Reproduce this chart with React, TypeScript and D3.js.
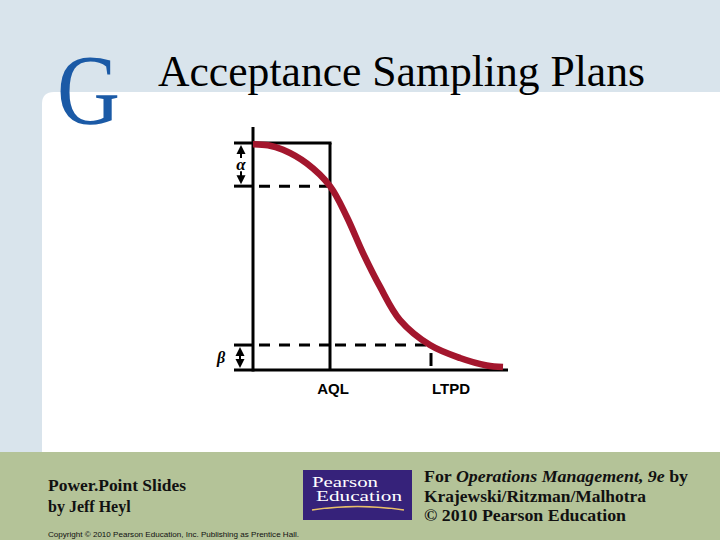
import React from "react";
import * as d3 from "d3";

// Operating characteristic (OC) curve
const defectX = [0, 0.6, 1.2, 2.15, 3.08, 3.75, 4.4, 5.08, 5.88, 7.08, 8.28, 9.35, 10];
const probAccept = [0.995, 0.99, 0.97, 0.91, 0.81, 0.675, 0.515, 0.367, 0.22, 0.11, 0.053, 0.02, 0.013];
const AQL = 3.08;
const LTPD = 7.12;
const ALPHA_LEVEL = 0.81; // 1 - alpha
const BETA_LEVEL = 0.11;
const axisLabels = ["AQL", "LTPD"];

const W = 720;
const H = 540;

export default function App() {
  const x = d3.scaleLinear().domain([0, 10]).range([253, 503]);
  const y = d3.scaleLinear().domain([0, 1]).range([370, 143]);
  const line = d3
    .line<number>()
    .x((_, i) => x(defectX[i]))
    .y((d) => y(d))
    .curve(d3.curveCatmullRom.alpha(0.5));
  const curvePath = line(probAccept) || "";

  const x0 = x(0);
  const xA = x(AQL);
  const xL = x(LTPD);
  const y1 = y(1);
  const y0 = y(0);
  const yAlpha = y(ALPHA_LEVEL);
  const yBeta = y(BETA_LEVEL);
  const tickLeft = 234;
  const arrowX = 241;
  const lw = 3;
  const dash = "11 9";

  const arrowHead = (cx: number, tipY: number, dir: number) =>
    `M${cx},${tipY} L${cx - 4.5},${tipY + dir * 9} L${cx + 4.5},${tipY + dir * 9} Z`;

  return (
    <svg
      width={W}
      height={H}
      style={{ position: "absolute", left: 0, top: 0, display: "block" }}
      viewBox={`0 0 ${W} ${H}`}
    >
      {/* slide background */}
      <rect x={0} y={0} width={W} height={H} fill="#d9e4ec" />
      <path d={`M42,452 L42,104 Q42,92 54,92 L720,92 L720,452 Z`} fill="#ffffff" />
      <rect x={0} y={452} width={W} height={H - 452} fill="#b4c398" />

      {/* header */}
      <text
        x={57}
        y={123}
        fontFamily="'Liberation Serif', 'Times New Roman', serif"
        fontSize={100}
        fill="#1b5aa6"
        textLength={63}
        lengthAdjust="spacingAndGlyphs"
      >
        G
      </text>
      <text
        x={158}
        y={86}
        fontFamily="'Liberation Serif', 'Times New Roman', serif"
        fontSize={44}
        fill="#000"
        textLength={487}
        lengthAdjust="spacingAndGlyphs"
      >
        Acceptance Sampling Plans
      </text>

      {/* OC chart */}
      <g stroke="#000" strokeWidth={lw} fill="none">
        {/* axes */}
        <line x1={x0} y1={127} x2={x0} y2={y0 + 1.5} />
        <line x1={tickLeft} y1={y0} x2={508} y2={y0} />
        {/* top line & AQL vertical */}
        <line x1={tickLeft} y1={y1} x2={xA + 1.5} y2={y1} />
        <line x1={xA} y1={y1} x2={xA} y2={y0} />
        {/* alpha line */}
        <line x1={tickLeft} y1={yAlpha} x2={x0} y2={yAlpha} />
        <line x1={x0 + 6} y1={yAlpha} x2={xA} y2={yAlpha} strokeDasharray={dash} />
        {/* beta line */}
        <line x1={tickLeft} y1={yBeta} x2={x0} y2={yBeta} />
        <line x1={x0 + 6} y1={yBeta} x2={xA} y2={yBeta} strokeDasharray={dash} />
        <line x1={xA + 5} y1={yBeta} x2={xL} y2={yBeta} strokeDasharray={dash} />
        {/* LTPD tick */}
        <line x1={xL} y1={yBeta + 8} x2={xL} y2={y0 - 4} />
        {/* alpha arrow shafts */}
        <line x1={arrowX} y1={y1 + 8} x2={arrowX} y2={y1 + 15} strokeWidth={2} />
        <line x1={arrowX} y1={yAlpha - 15} x2={arrowX} y2={yAlpha - 8} strokeWidth={2} />
        {/* beta arrow shaft */}
        <line x1={arrowX - 1} y1={yBeta + 6} x2={arrowX - 1} y2={y0 - 6} strokeWidth={2} />
      </g>
      <g fill="#000">
        <path d={arrowHead(arrowX, y1 + 2, 1)} />
        <path d={arrowHead(arrowX, yAlpha - 2, -1)} />
        <path d={arrowHead(arrowX - 1, yBeta + 2, 1)} />
        <path d={arrowHead(arrowX - 1, y0 - 2, -1)} />
      </g>
      <text
        x={arrowX}
        y={(y1 + yAlpha) / 2 + 5}
        textAnchor="middle"
        fontFamily="'Liberation Serif', serif"
        fontStyle="italic"
        fontWeight="bold"
        fontSize={17}
      >
        α
      </text>
      <text
        x={221}
        y={(yBeta + y0) / 2 + 5}
        textAnchor="middle"
        fontFamily="'Liberation Serif', serif"
        fontStyle="italic"
        fontWeight="bold"
        fontSize={16}
      >
        β
      </text>

      <path
        d={curvePath}
        fill="none"
        stroke="#a3162d"
        strokeWidth={6.5}
        strokeLinecap="butt"
        strokeLinejoin="round"
      />

      <text
        x={xA + 3}
        y={394}
        textAnchor="middle"
        fontFamily="'Liberation Sans', Arial, sans-serif"
        fontWeight="bold"
        fontSize={15}
      >
        {axisLabels[0]}
      </text>
      <text
        x={xL + 20}
        y={394}
        textAnchor="middle"
        fontFamily="'Liberation Sans', Arial, sans-serif"
        fontWeight="bold"
        fontSize={15}
      >
        {axisLabels[1]}
      </text>

      {/* footer */}
      <g fontFamily="'Liberation Serif', 'Times New Roman', serif" fontWeight="bold" fontSize={16} fill="#111">
        <text x={48} y={491} textLength={138} lengthAdjust="spacingAndGlyphs">
          Power.Point Slides
        </text>
        <text x={48} y={512}>
          by Jeff Heyl
        </text>
        <text x={424} y={482} textLength={264} lengthAdjust="spacingAndGlyphs">
          For <tspan fontStyle="italic">Operations Management, 9e</tspan> by
        </text>
        <text x={424} y={502} textLength={222} lengthAdjust="spacingAndGlyphs">
          Krajewski/Ritzman/Malhotra
        </text>
        <text x={424} y={521} textLength={202} lengthAdjust="spacingAndGlyphs">
          © 2010 Pearson Education
        </text>
      </g>
      <text
        x={48}
        y={537}
        fontFamily="'Liberation Sans', Arial, sans-serif"
        fontSize={7.5}
        fill="#111"
        textLength={251}
        lengthAdjust="spacingAndGlyphs"
      >
        Copyright © 2010 Pearson Education, Inc. Publishing as Prentice Hall.
      </text>

      {/* Pearson logo */}
      <rect x={303} y={470} width={109} height={50} fill="#36227a" />
      <text x={312} y={487} fontFamily="'Liberation Serif', serif" fontSize={14} fill="#fff" textLength={66} lengthAdjust="spacingAndGlyphs">
        Pearson
      </text>
      <text x={316} y={501} fontFamily="'Liberation Serif', serif" fontSize={14} fill="#fff" textLength={86} lengthAdjust="spacingAndGlyphs">
        Education
      </text>
      <path d="M312,510 Q357,503 404,510" fill="none" stroke="#e9c06a" strokeWidth={1.5} />
    </svg>
  );
}
